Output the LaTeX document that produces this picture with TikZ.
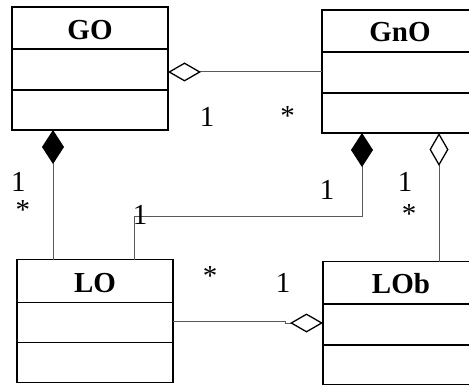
\documentclass[tikz,border=0pt]{standalone}
\usepackage{fontspec}
\setmainfont{Liberation Serif}
\usetikzlibrary{arrows.meta}

\tikzset{
  classbox/.style={draw=black, line width=1.5pt, minimum width=156pt,
    minimum height=123pt, inner sep=0pt, outer sep=0pt, anchor=north west},
  divider/.style={draw=black, line width=1.5pt},
  classname/.style={font=\fontsize{29}{30}\selectfont\bfseries, anchor=base, inner sep=0pt},
  mult/.style={font=\fontsize{29}{30}\selectfont, anchor=base, inner sep=0pt},
  link/.style={draw=black!65, line width=1pt},
  aggr/.style={link, -{Diamond[fill=white, color=black, line width=1.3pt, length=33pt, width=19pt]}},
  comp/.style={link, -{Diamond[fill=black, color=black, line width=1.3pt, length=34pt, width=22pt]}},
}

\begin{document}
\begin{tikzpicture}[x=1pt, y=-1pt]
  \useasboundingbox (0,0) rectangle (469,385);
  \clip (0,0) rectangle (469,385);

  % class boxes
  \node[classbox] (GO)  at (12,7)      {};
  \node[classbox] (GnO) at (322,10)    {};
  \node[classbox] (LO)  at (17,259.5)  {};
  \node[classbox] (LOb) at (323,261.5) {};

  % compartment separators
  \foreach \c/\a/\b in {GO/42/83, GnO/42/83, LO/43/83, LOb/42.5/83.5} {
    \draw[divider] ([yshift=-\a pt]\c.north west) -- ([yshift=-\a pt]\c.north east);
    \draw[divider] ([yshift=-\b pt]\c.north west) -- ([yshift=-\b pt]\c.north east);
  }

  % class names
  \node[classname] (GOn)  at (90,40)   {GO};
  \node[classname] (GnOn) at (400,42)  {GnO};
  \node[classname] (LOn)  at (95,292)  {LO};
  \node[classname] (LObn) at (401,293) {LOb};

  % routing points
  \coordinate (a1) at (0,72);
  \coordinate (a2) at (53,0);
  \coordinate (c1) at (134,217);
  \coordinate (c2) at (362,217);
  \coordinate (a4) at (439,0);
  \coordinate (j1) at (285,321.5);
  \coordinate (j2) at (285,323);

  % associations
  \draw[aggr] (GnO.west |- a1) -- (GO.east |- a1);
  \draw[comp] (LO.north -| a2) -- (GO.south -| a2);
  \draw[comp] (LO.north -| c1) -- (c1) -- (c2) -- (GnO.south -| c2);
  \draw[aggr] (LOb.north -| a4) -- (GnO.south -| a4);
  \draw[aggr] (LO.east |- j1) -- (j1) -- (j2) -- (LOb.west |- j2);

  % multiplicities
  \node[mult] (m1)  at (207,127)   {1};
  \node[mult] (m2)  at (287.5,125.5) {*};
  \node[mult] (m3)  at (18.5,192)  {1};
  \node[mult] (m4)  at (23,219.5)  {*};
  \node[mult] (m5)  at (327,200)   {1};
  \node[mult] (m6)  at (405,192)   {1};
  \node[mult] (m7)  at (409,223.5) {*};
  \node[mult] (m8)  at (140,225)   {1};
  \node[mult] (m9)  at (210,285.5) {*};
  \node[mult] (m10) at (283,292)   {1};
\end{tikzpicture}
\end{document}
